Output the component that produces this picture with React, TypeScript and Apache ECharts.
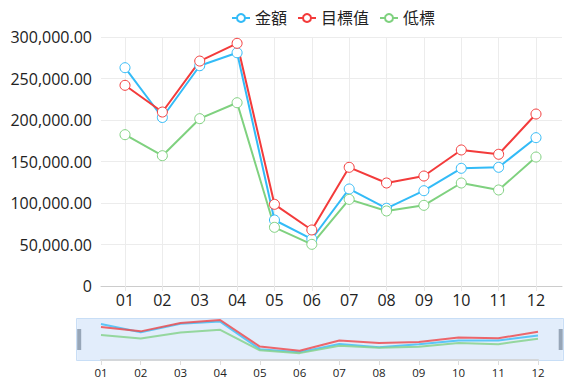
import React, { useEffect, useRef } from "react";
import * as echarts from "echarts";

const months = ["01", "02", "03", "04", "05", "06", "07", "08", "09", "10", "11", "12"];
const amount = [263000, 203000, 265400, 281000, 79500, 56600, 116900, 93600, 114800, 141800, 143000, 178700];
const target = [241800, 209600, 271000, 292400, 98400, 67500, 143000, 124100, 132500, 163900, 158700, 207200];
const low = [182300, 157000, 201600, 220800, 70700, 50200, 104400, 90400, 97200, 124100, 115700, 155400];
const seriesNames = ["金額", "目標值", "低標"];
const yTicks = { min: 0, max: 300000, interval: 50000 };

const colors = ["#33bbf7", "#f33b3b", "#7fd17f"];
const FONT = "'Open Sans', 'Noto Sans CJK TC', sans-serif";
const TEXT = "#222";

export default function App() {
  const ref = useRef<HTMLDivElement>(null);
  useEffect(() => {
    document.body.style.margin = "0";
    const chart = echarts.init(ref.current!, null, { renderer: "svg" });
    const values = [amount, target, low];
    const mainSeries = values.map((d, i) => ({
      name: seriesNames[i],
      type: "line",
      xAxisIndex: 1,
      yAxisIndex: 1,
      data: d,
      symbol: "circle",
      symbolSize: 10,
      color: colors[i],
      lineStyle: { width: 2, color: colors[i] },
      itemStyle: { color: "#fff", borderColor: colors[i], borderWidth: 1 },
    }));
    const miniSeries = values.map((d, i) => ({
      name: seriesNames[i],
      type: "line",
      xAxisIndex: 2,
      yAxisIndex: 2,
      data: d,
      showSymbol: false,
      symbol: "none",
      color: colors[i],
      lineStyle: { width: 2, color: colors[i], opacity: 0.85 },
      silent: true,
    }));
    const option: any = {
      animation: false,
      textStyle: { fontFamily: FONT },
      legend: {
        data: seriesNames.map((n, i) => ({
          name: n,
          itemStyle: { color: "#fff", borderColor: colors[i], borderWidth: 2 },
        })),
        left: 226,
        top: 5,
        itemWidth: 18,
        itemHeight: 10,
        itemGap: 10,
        textStyle: { fontSize: 16, color: TEXT, fontFamily: FONT },
      },
      graphic: [
        {
          type: "rect",
          z: 0,
          shape: { x: 76.5, y: 318.5, width: 487, height: 42 },
          style: { fill: "#e6f0fc", stroke: "#c9def6", lineWidth: 1 },
        },
      ],
      grid: [
        { left: 101, right: 6, top: 37, bottom: 101 },
        { left: 125, right: 32, top: 37, bottom: 101 },
        { left: 101, right: 30, top: 319, height: 41 },
      ],
      xAxis: [
        {
          gridIndex: 0,
          type: "value",
          min: 0,
          max: 1,
          axisLine: { show: true, onZero: false, lineStyle: { color: "#cccccc" } },
          axisTick: { show: false },
          axisLabel: { show: false },
          splitLine: { show: false },
        },
        {
          gridIndex: 1,
          type: "category",
          boundaryGap: false,
          data: months,
          axisLine: { show: false },
          axisTick: { show: true, length: 5, lineStyle: { color: "#e8e8e8" } },
          axisLabel: { fontSize: 16, color: TEXT, margin: 6, fontFamily: FONT },
          splitLine: { show: true, lineStyle: { color: "#ececec" } },
        },
        {
          gridIndex: 2,
          type: "category",
          boundaryGap: false,
          data: months,
          axisLine: { show: true, lineStyle: { color: "#d6d6d6", width: 2 } },
          axisTick: { show: true, length: 5, lineStyle: { color: "#dddddd" } },
          axisLabel: { fontSize: 11.5, color: TEXT, margin: 7, fontFamily: FONT },
          splitLine: { show: false },
        },
      ],
      yAxis: [
        {
          gridIndex: 0,
          type: "value",
          min: yTicks.min,
          max: yTicks.max,
          interval: yTicks.interval,
          axisLine: { show: false },
          axisTick: { show: false },
          axisLabel: {
            fontSize: 16,
            color: TEXT,
            margin: 9,
            fontFamily: FONT,
            formatter: (v: number) =>
              v === 0
                ? "0"
                : v.toLocaleString("en-US", { minimumFractionDigits: 2, maximumFractionDigits: 2 }),
          },
          splitLine: { show: true, lineStyle: { color: "#ececec" } },
        },
        {
          gridIndex: 1,
          type: "value",
          min: yTicks.min,
          max: yTicks.max,
          interval: yTicks.interval,
          show: false,
        },
        {
          gridIndex: 2,
          type: "value",
          min: yTicks.min,
          max: yTicks.max,
          interval: yTicks.interval,
          show: false,
        },
      ],
      dataZoom: [
        {
          type: "slider",
          xAxisIndex: 1,
          start: 0,
          end: 100,
          left: 78,
          right: 6.5,
          top: 318,
          height: 43,
          showDataShadow: false,
          showDetail: false,
          brushSelect: false,
          moveHandleSize: 0,
          backgroundColor: "rgba(0,0,0,0)",
          borderColor: "rgba(0,0,0,0)",
          fillerColor: "rgba(200,220,245,0.12)",
          handleIcon: "path://M0,0 L4,0 L4,21 L0,21 Z",
          handleSize: 21,
          handleStyle: { color: "#97a6b8", borderWidth: 0 },
          emphasis: { handleStyle: { color: "#97a6b8", borderWidth: 0 } },
        },
      ],
      series: [...mainSeries, ...miniSeries],
    };
    chart.setOption(option);
    return () => chart.dispose();
  }, []);
  return <div ref={ref} style={{ width: 568, height: 387 }} />;
}
